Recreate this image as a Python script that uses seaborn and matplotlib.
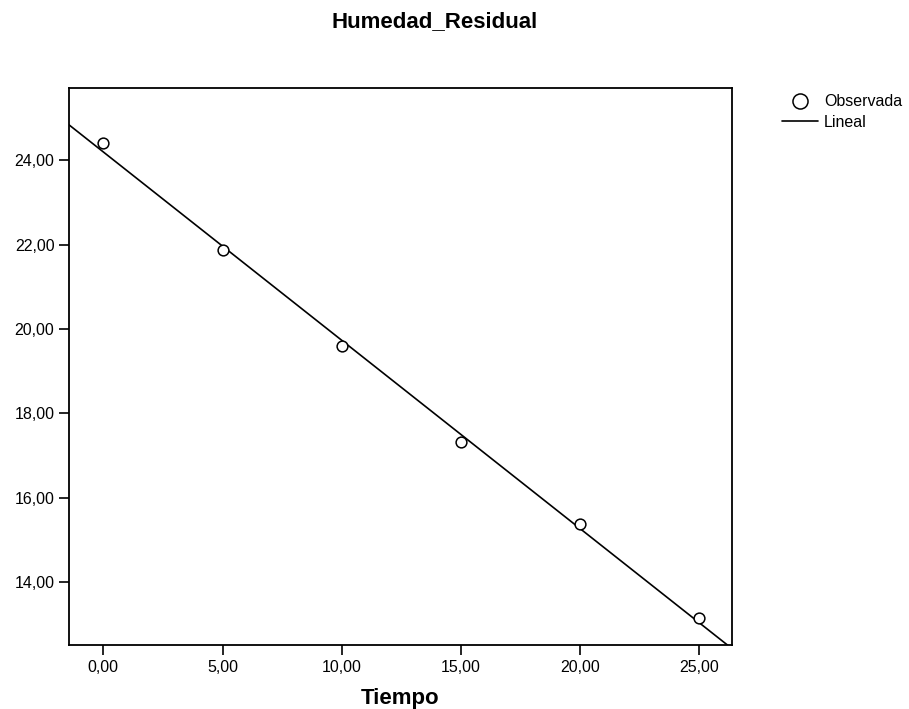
import numpy as np
import pandas as pd
import matplotlib
matplotlib.use("Agg")
import matplotlib.pyplot as plt
from matplotlib.ticker import FuncFormatter
import seaborn as sns

# Observed residual moisture over time
tiempo = [0, 5, 10, 15, 20, 25]
humedad = [24.40, 21.88, 19.59, 17.31, 15.37, 13.14]
x_ticks = [0, 5, 10, 15, 20, 25]
y_ticks = [14, 16, 18, 20, 22, 24]

df = pd.DataFrame({"Tiempo": tiempo, "Humedad_Residual": humedad})

sns.set_style("white")
plt.rcParams["font.family"] = ["Liberation Sans", "DejaVu Sans"]
plt.rcParams["text.color"] = "black"
plt.rcParams["axes.labelcolor"] = "black"

fig = plt.figure(figsize=(9.09, 7.09), dpi=100)
ax = fig.add_axes([69 / 909, 1 - 645 / 709, (732 - 69) / 909, (645 - 88) / 709])

xlim = (-1.44, 26.37)
ylim = (12.51, 25.71)
ax.set_xlim(*xlim)
ax.set_ylim(*ylim)

# Linear fit extended across the full axis range
sns.regplot(data=df, x="Tiempo", y="Humedad_Residual", ax=ax, scatter=False,
            ci=None, truncate=False, color="black",
            line_kws={"linewidth": 1.2})
fit_line = ax.lines[-1]
fit_line.set_label("Lineal")

sns.scatterplot(data=df, x="Tiempo", y="Humedad_Residual", ax=ax,
                marker="o", s=60, facecolor="white", edgecolor="black",
                linewidth=1.1, label="Observada", zorder=3)

ax.set_xlim(*xlim)
ax.set_ylim(*ylim)

fmt = FuncFormatter(lambda v, pos: f"{v:.2f}".replace(".", ","))
ax.set_xticks(x_ticks)
ax.set_yticks(y_ticks)
ax.xaxis.set_major_formatter(fmt)
ax.yaxis.set_major_formatter(fmt)
ax.tick_params(axis="both", which="major", direction="out", length=7.5,
               width=1.2, color="black", labelsize=11.5, labelcolor="black",
               bottom=True, left=True, pad=3)

for sp in ax.spines.values():
    sp.set_visible(True)
    sp.set_color("black")
    sp.set_linewidth(1.3)

ax.set_ylabel("")
ax.set_xlabel("Tiempo", fontsize=16, fontweight="bold", labelpad=10,
              color="black")

fig.text(435 / 909, 1 - 22 / 709, "Humedad_Residual", ha="center", va="center",
         fontsize=16, fontweight="bold", color="black")

handles, labels = ax.get_legend_handles_labels()
order = [labels.index("Observada"), labels.index("Lineal")]
leg = ax.legend([handles[i] for i in order], [labels[i] for i in order],
                loc="upper left", bbox_to_anchor=(1.075, 0.99), frameon=False,
                fontsize=11.5, handlelength=2.25, handletextpad=0.4,
                labelspacing=0.4, markerscale=1.4, borderaxespad=0,
                borderpad=0)
for t in leg.get_texts():
    t.set_color("black")

fig.savefig("out.png", dpi=100)
